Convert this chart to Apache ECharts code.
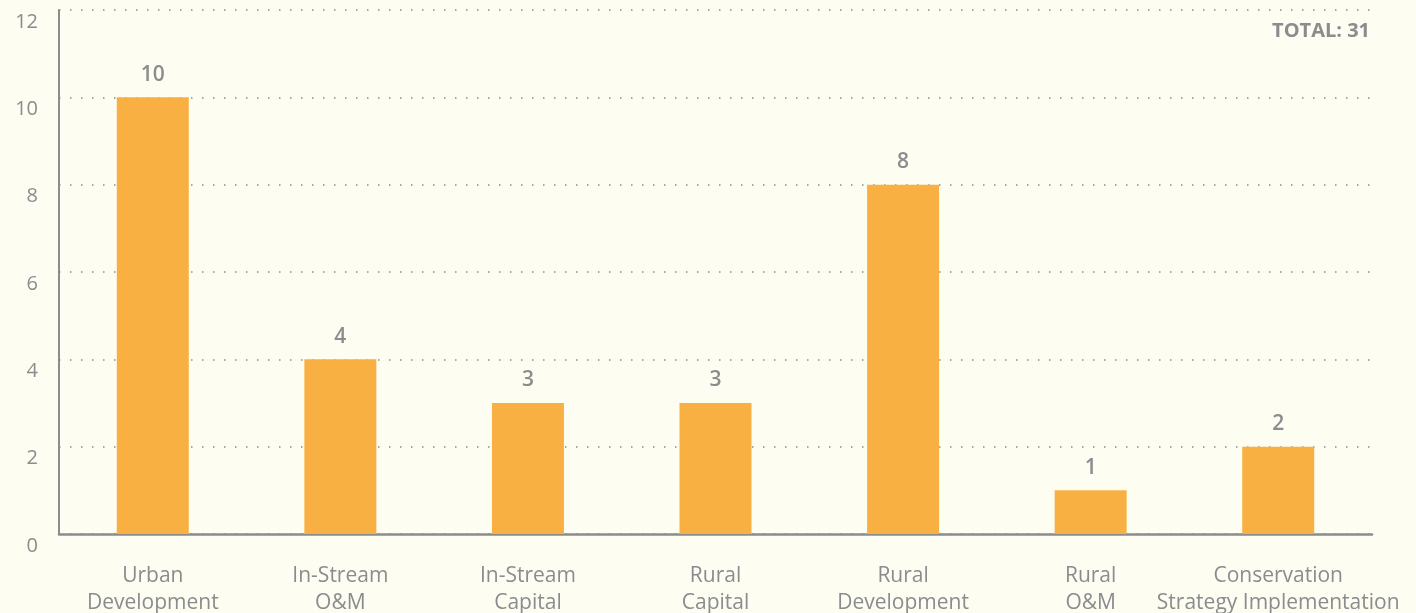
<!DOCTYPE html>
<html>
<head>
<meta charset="utf-8">
<script src="https://cdn.jsdelivr.net/npm/echarts@6/dist/echarts.min.js"></script>
<style>
html,body{margin:0;padding:0;background:#fdfdf1;}
#chart{width:1416px;height:613px;}
</style>
</head>
<body>
<div id="chart"></div>
<script>
const categories = ["Urban\nDevelopment", "In-Stream\nO&M", "In-Stream\nCapital", "Rural\nCapital", "Rural\nDevelopment", "Rural\nO&M", "Conservation\nStrategy Implementation"];
const values = [10, 4, 3, 3, 8, 1, 2];
const totalLabel = "TOTAL: 31";

const chart = echarts.init(document.getElementById('chart'));
const gray = '#8a8c8e';
const font = 'Open Sans';
chart.setOption({
  backgroundColor: '#fdfdf1',
  animation: false,
  textStyle: { fontFamily: font },
  grid: { left: 59, right: 44, top: 10, bottom: 79, containLabel: false, outerBoundsMode: 'none' },
  xAxis: {
    type: 'category',
    data: categories,
    axisLine: { lineStyle: { color: gray, width: 2.5 } },
    axisTick: { show: false },
    axisLabel: { color: gray, fontSize: 21, lineHeight: 27, margin: 29, fontFamily: font, interval: 0 }
  },
  yAxis: {
    type: 'value',
    min: 0, max: 12, interval: 2,
    axisLine: { show: true, lineStyle: { color: gray, width: 2 } },
    axisTick: { show: false },
    axisLabel: { color: gray, fontSize: 20, margin: 21, fontFamily: font, verticalAlign: 'top', lineHeight: 24 },
    splitLine: { show: true, lineStyle: { color: gray, type: [1.5, 9.5], width: 1.5 } }
  },
  series: [{
    type: 'bar',
    data: values,
    barWidth: 72,
    itemStyle: { color: '#f9b043' },
    label: { show: true, position: 'top', distance: 12, color: gray, fontSize: 21, fontWeight: 600, fontFamily: font }
  }],
  graphic: [{
    type: 'text',
    right: 46, top: 21,
    style: { text: totalLabel, fill: gray, font: 'bold 20px "Open Sans"' }
  }]
});
</script>
</body>
</html>
